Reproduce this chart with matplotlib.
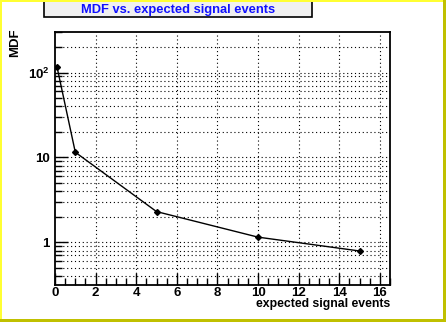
import matplotlib
matplotlib.use("Agg")
import matplotlib.pyplot as plt
from matplotlib.ticker import FixedLocator, FuncFormatter, NullFormatter
from matplotlib.patches import Rectangle
import numpy as np

# Data
signal_events = [0.1, 1, 5, 10, 15]
mdf_values = [116, 11.5, 2.3, 1.15, 0.79]
title_text = "MDF vs. expected signal events"
x_label = "expected signal events"
y_label = "MDF"

plt.rcParams['font.family'] = ['Liberation Sans', 'DejaVu Sans']
plt.rcParams['mathtext.fontset'] = 'custom'
plt.rcParams['mathtext.rm'] = 'Liberation Sans:bold'
plt.rcParams['mathtext.bf'] = 'Liberation Sans:bold'
plt.rcParams['mathtext.it'] = 'Liberation Sans:bold'

W, H = 446, 322
fig = plt.figure(figsize=(W / 100, H / 100), dpi=100)
fig.patch.set_facecolor('white')

ax = fig.add_axes([55 / W, 1 - 285 / H, (390 - 55) / W, (285 - 32) / H])
ax.set_yscale('log')
ax.set_xlim(0, 16.5)
ax.set_ylim(0.314, 300)

ax.plot(signal_events, mdf_values, color='black', lw=1.0, marker='D', ms=3,
        mfc='black', mec='black', zorder=5)

# ticks
ax.xaxis.set_major_locator(FixedLocator(np.arange(0, 17, 2)))
ax.xaxis.set_minor_locator(FixedLocator(np.arange(0, 16.6, 0.5)))
ymaj = [1, 10, 100]
ymin = [m * 10.0 ** e for e in range(-1, 3) for m in range(2, 10)]
ax.yaxis.set_major_locator(FixedLocator(ymaj))
ax.yaxis.set_minor_locator(FixedLocator(ymin))
ax.yaxis.set_minor_formatter(NullFormatter())

def yfmt(v, pos):
    if abs(v - 100) < 1e-6:
        return r'$\mathbf{10^{2}}$'
    return '%g' % v

ax.yaxis.set_major_formatter(FuncFormatter(yfmt))
ax.xaxis.set_major_formatter(FuncFormatter(lambda v, p: '%d' % v))

ax.tick_params(axis='both', which='both', direction='in', top=False, right=False,
               labelsize=9.5, width=1.0, color='black')
ax.tick_params(axis='both', which='major', length=9)
ax.tick_params(axis='both', which='minor', length=5)
ax.tick_params(axis='x', which='major', pad=1.2)
ax.tick_params(axis='y', which='major', pad=4)
for lab in ax.get_xticklabels() + ax.get_yticklabels():
    lab.set_fontweight('bold')

# grid
for xv in np.arange(2, 17, 2):
    ax.axvline(xv, color='black', lw=0.8, ls=(0, (1, 2.5)), zorder=1)
for yv in ymaj + ymin:
    if 0.314 < yv < 300:
        ax.axhline(yv, color='black', lw=0.8, ls=(0, (1, 2.5)), zorder=1)

for sp in ax.spines.values():
    sp.set_linewidth(1.3)

# labels
fig.text(390 / W, 1 - 304 / H, x_label, ha='right', va='center',
         fontsize=8.8, fontweight='bold')
fig.text(15 / W, 1 - 28 / H, y_label, ha='center', va='top', rotation=90,
         fontsize=9.5, fontweight='bold')

# title box
fig.patches.append(Rectangle((44 / W, 1 - 17 / H), (312 - 44) / W, 17 / H + 0.01,
                             transform=fig.transFigure, facecolor='#f0f0f0',
                             edgecolor='black', lw=1.2, zorder=2))
fig.text(178 / W, 1 - 10.5 / H, title_text, ha='center', va='center',
         fontsize=9.3, fontweight='bold', color='#1010ff', zorder=3)

# frame border (bevel)
fig.patches.append(Rectangle((0, 0), 2 / W, 1, transform=fig.transFigure,
                             facecolor='#ffff33', edgecolor='none', zorder=4))
fig.patches.append(Rectangle((0, 1 - 1.5 / H), 1, 1.5 / H, transform=fig.transFigure,
                             facecolor='#ffff33', edgecolor='none', zorder=4))
fig.patches.append(Rectangle((1 - 3 / W, 0), 3 / W, 1, transform=fig.transFigure,
                             facecolor='#c0c000', edgecolor='none', zorder=4))
fig.patches.append(Rectangle((0, 0), 1, 3 / H, transform=fig.transFigure,
                             facecolor='#c0c000', edgecolor='none', zorder=4))

fig.savefig('out.png', dpi=100)
